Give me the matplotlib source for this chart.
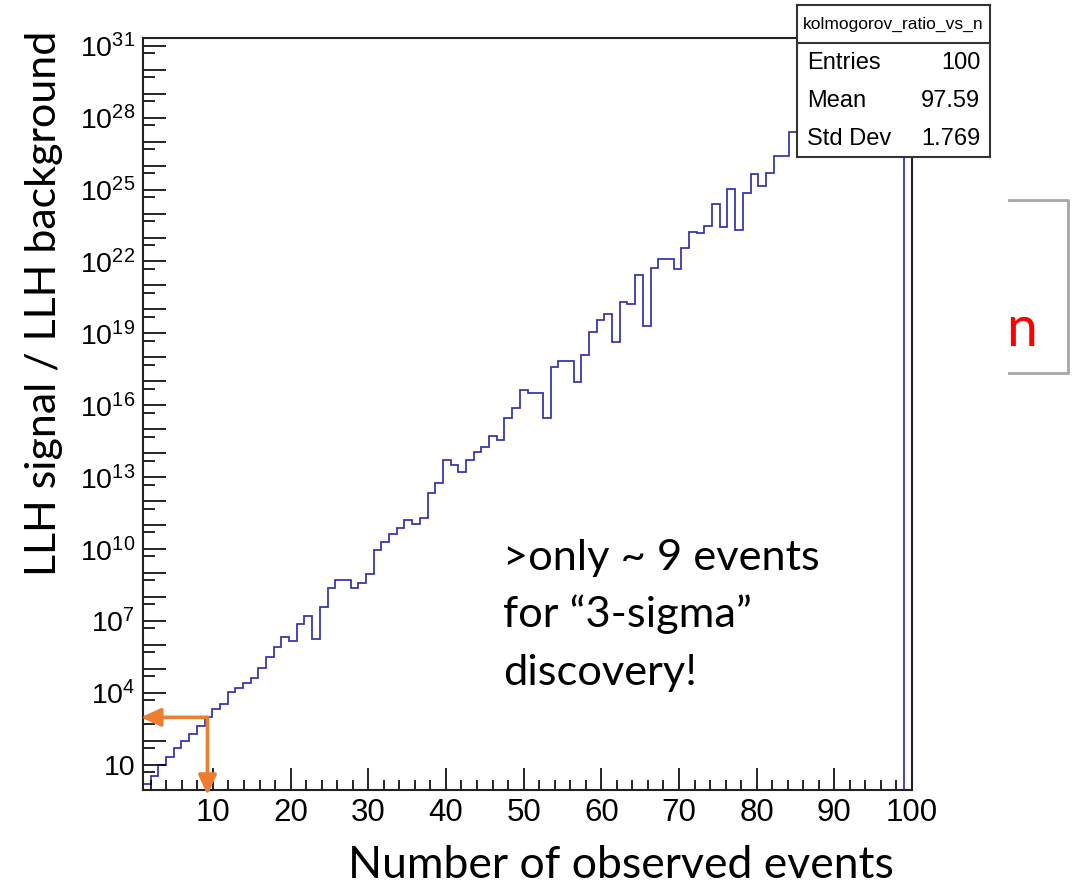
import matplotlib
matplotlib.use("Agg")
import matplotlib.pyplot as plt
import matplotlib.ticker as mticker
from matplotlib.lines import Line2D
import numpy as np

plt.rcParams['font.family'] = 'Liberation Sans'
plt.rcParams['mathtext.fontset'] = 'custom'
plt.rcParams['mathtext.rm'] = 'Liberation Sans'

#==============================================================================
# Histogram contents: log10(LLH signal / LLH background) per bin (bins 1..99)
#==============================================================================
log_ratio = [
    0.21, 0.55, 1.00, 1.35, 1.70, 2.01, 2.29, 2.64, 2.99, 3.32,
    3.53, 4.03, 4.23, 4.41, 4.62, 5.03, 5.49, 5.94, 6.35, 6.19,
    6.88, 7.22, 6.24, 7.58, 8.37, 8.72, 8.72, 8.37, 8.61, 8.97,
    9.95, 10.30, 10.64, 10.89, 11.24, 11.05, 11.29, 12.33, 12.75, 13.72,
    13.50, 13.21, 13.72, 14.07, 14.27, 14.73, 14.54, 15.48, 15.88, 16.65,
    16.53, 16.53, 15.49, 17.62, 17.86, 17.86, 16.99, 18.08, 19.06, 19.57,
    19.82, 18.66, 20.29, 20.22, 21.45, 19.32, 21.72, 22.10, 22.10, 21.68,
    22.56, 23.25, 23.18, 23.47, 24.40, 23.42, 25.03, 23.30, 24.85, 25.63,
    25.16, 25.67, 26.38, 26.38, 27.40, 27.60, 27.90, 28.10, 28.40, 28.80,
    29.00, 29.30, 29.60, 29.90, 30.20, 30.40, 30.70, 31.00, 31.20,
]
ratio = 10.0 ** np.array(log_ratio)

n_bins = 100
x_min, x_max = 1.0, 100.0
edges = np.linspace(x_min, x_max, n_bins + 1)

stat_names = ['Entries', 'Mean', 'Std Dev']
stat_values = ['100', '97.59', '1.769']
hist_name = 'kolmogorov_ratio_vs_n'

n_events_3sigma = 9.3

W, H = 1073, 884
def fx(px):
    return px / W
def fy(py):
    return 1 - py / H

fig = plt.figure(figsize=(W / 100, H / 100), dpi=100)
ax = fig.add_axes([fx(143), fy(790), (912 - 143) / W, (790 - 38) / H])

ymin, ymax = 10 ** -0.04, 10 ** 31.32
ax.stairs(ratio, edges[:len(ratio) + 1], baseline=ymin,
          color='#3030b0', linewidth=1.25)

ax.set_yscale('log')
ax.set_xlim(x_min, x_max)
ax.set_ylim(ymin, ymax)

# axis ticks, ROOT style
ax.xaxis.set_major_locator(mticker.FixedLocator(np.arange(10, 101, 10)))
ax.xaxis.set_minor_locator(mticker.FixedLocator([v for v in range(2, 101, 2) if v % 10]))
ax.yaxis.set_major_locator(mticker.FixedLocator([10.0 ** k for k in range(1, 32)]))
ax.yaxis.set_minor_locator(mticker.FixedLocator([5 * 10.0 ** k for k in range(0, 31)]))

def ylab(v, pos):
    k = int(round(np.log10(v)))
    if k % 3 != 1:
        return ''
    if k == 1:
        return '10'
    return r'$\mathregular{10^{%d}}$' % k
ax.yaxis.set_major_formatter(mticker.FuncFormatter(ylab))
ax.yaxis.set_minor_formatter(mticker.NullFormatter())

ax.tick_params(axis='x', which='major', direction='in', length=15.5, width=1.2,
               labelsize=22.5, pad=6, top=False)
ax.tick_params(axis='x', which='minor', direction='in', length=7.2, width=1.2, top=False)
ax.tick_params(axis='y', which='major', direction='in', length=16.5, width=1.2,
               labelsize=20.5, pad=5.5, right=False)
ax.tick_params(axis='y', which='minor', direction='in', length=8.6, width=1.2, right=False)
for s in ax.spines.values():
    s.set_linewidth(1.5)
    s.set_color('#222222')

# orange arrows marking the ~9 events point
orange = '#ED7D31'
knee_y = ratio[8]
aprops = dict(arrowstyle='-|>,head_length=1.2,head_width=0.55', color=orange,
              lw=2.6, shrinkA=0, shrinkB=0, mutation_scale=10)
ax.annotate('', xy=(0.72, knee_y), xytext=(n_events_3sigma, knee_y),
            arrowprops=aprops, annotation_clip=False)
ax.annotate('', xy=(n_events_3sigma, 10 ** -0.25), xytext=(n_events_3sigma, knee_y),
            arrowprops=aprops, annotation_clip=False)

# stats box
sax = fig.add_axes([fx(797), fy(157), (990 - 797) / W, (157 - 5) / H])
sax.set_xticks([])
sax.set_yticks([])
sax.set_xlim(0, 1)
sax.set_ylim(0, 1)
for s in sax.spines.values():
    s.set_linewidth(1.5)
    s.set_color('#333333')
sax.axhline(0.75, color='#333333', lw=1.5)
sax.text(0.5, 0.875, hist_name, ha='center', va='center', fontsize=12.5)
for i, (nm, val) in enumerate(zip(stat_names, stat_values)):
    yy = 0.62 - i * 0.25
    sax.text(0.052, yy, nm, ha='left', va='center', fontsize=17)
    sax.text(0.95, yy, val, ha='right', va='center', fontsize=17)

# slide text
cal = ['Lato', 'DejaVu Sans']
fig.text(fx(44), fy(303), 'LLH signal / LLH background', rotation=90,
         ha='center', va='center', fontsize=31, family=cal)
fig.text(fx(621), fy(878), 'Number of observed events', ha='center',
         va='baseline', fontsize=32, family=cal)
for txt, base in zip(['>only ~ 9 events', 'for \u201c3-sigma\u201d', 'discovery!'],
                     [570, 627.5, 685]):
    fig.text(fx(503), fy(base), txt, ha='left', va='baseline', fontsize=31.2, family=cal)

# cut-off box with a red "n" on the right
gray = '#a6a6a6'
fig.add_artist(Line2D([fx(1009), fx(1068), fx(1068), fx(1009)],
                      [fy(200), fy(200), fy(373), fy(373)], color=gray, lw=2))
fig.text(fx(1006), fy(346), 'n', color='red', ha='left', va='baseline',
         fontsize=40, family=cal)

fig.savefig('out.png', dpi=100)
